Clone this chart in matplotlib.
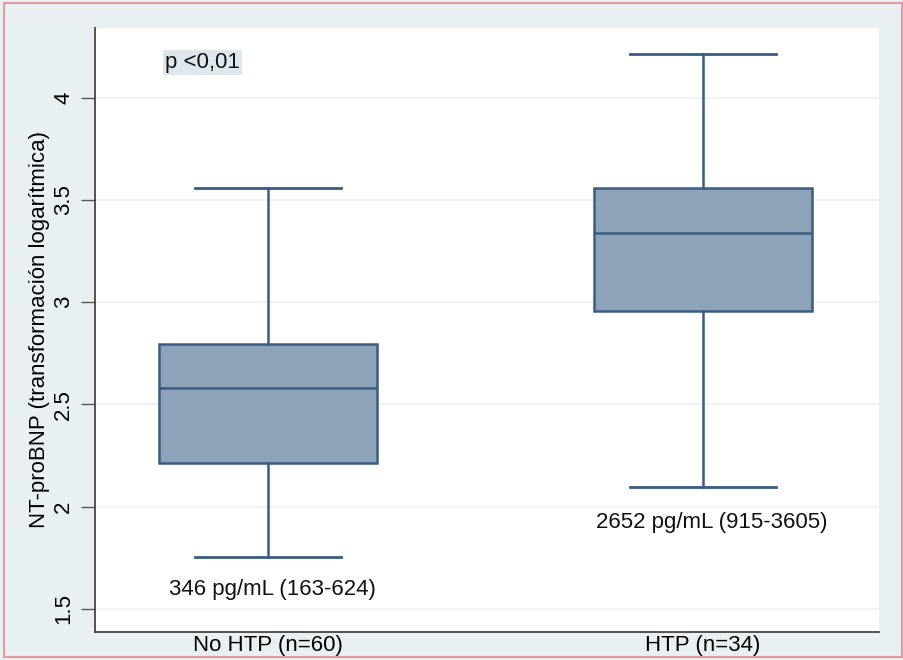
import matplotlib
matplotlib.use("Agg")
import matplotlib.pyplot as plt
from matplotlib.patches import Rectangle

# Log-transformed NT-proBNP distribution per group
groups = ["No HTP (n=60)", "HTP (n=34)"]
whisker_low = [1.755, 2.095]
q1 = [2.215, 2.958]
median = [2.578, 3.338]
q3 = [2.795, 3.558]
whisker_high = [3.558, 4.215]
summary_labels = ["346 pg/mL (163-624)", "2652 pg/mL (915-3605)"]
summary_y = [1.595, 1.92]
summary_dx = [0.01, 0.02]
yticks = [1.5, 2, 2.5, 3, 3.5, 4]
ytick_labels = ["1.5", "2", "2.5", "3", "3.5", "4"]
pvalue_text = "p <0,01"

plt.rcParams["font.family"] = ["Liberation Sans", "DejaVu Sans"]

bg = "#e9f0f3"
fill = "#8ea3b8"
edge = "#3a5c82"
fs = 16

fig = plt.figure(figsize=(9.04, 6.6), dpi=100, facecolor=bg)
ax = fig.add_axes([95 / 904, 28 / 660, 784 / 904, 604 / 660])
ax.set_facecolor("white")

stats = []
for i in range(len(groups)):
    stats.append({
        "med": median[i], "q1": q1[i], "q3": q3[i],
        "whislo": whisker_low[i], "whishi": whisker_high[i],
        "label": groups[i], "fliers": [],
    })

ax.bxp(stats, positions=[1, 2], widths=0.5, patch_artist=True,
       showfliers=False,
       boxprops=dict(facecolor=fill, edgecolor=edge, linewidth=1.8),
       medianprops=dict(color=edge, linewidth=1.8),
       whiskerprops=dict(color=edge, linewidth=1.8),
       capprops=dict(color=edge, linewidth=2.0),
       capwidths=0.335, zorder=3)

ax.set_xlim(0.602, 2.405)
ax.set_ylim(1.387, 4.34)

ax.set_yticks(yticks)
ax.set_yticklabels(ytick_labels, rotation=90, va="center", fontsize=fs)
ax.tick_params(axis="y", length=10, width=1, color="#555555", pad=5)
ax.tick_params(axis="x", length=0, labelsize=fs, pad=2)
ax.set_xticks([1, 2])
ax.set_xticklabels(groups)
ax.grid(axis="y", color="#eef3f5", linewidth=1.5, zorder=0)
ax.set_axisbelow(True)

for side in ["top", "right"]:
    ax.spines[side].set_visible(False)
ax.spines["left"].set_color("#444444")
ax.spines["bottom"].set_color("#444444")
ax.spines["left"].set_linewidth(1.3)
ax.spines["bottom"].set_linewidth(1.3)

ax.set_ylabel("NT-proBNP (transformación logarítmica)", fontsize=fs, labelpad=2)

for i, txt in enumerate(summary_labels):
    ax.text(1 + i + summary_dx[i], summary_y[i], txt, ha="center", va="center",
            fontsize=fs, color="#111111")

ax.text(0.763, 4.17, pvalue_text, ha="left", va="center", fontsize=fs,
        color="#111111",
        bbox=dict(boxstyle="square,pad=0.1", facecolor="#dce7ee", edgecolor="none"))

# pink frame around the whole figure
fig.patches.append(Rectangle((4 / 904, 3 / 660), 898 / 904, 654 / 660,
                             transform=fig.transFigure, fill=False,
                             edgecolor="#e59a9e", linewidth=1.5))

fig.savefig("out.png", dpi=100, facecolor=bg)
